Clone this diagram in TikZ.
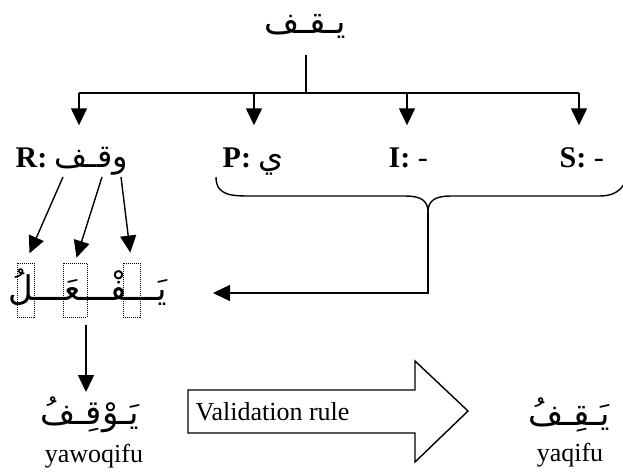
\documentclass[tikz,border=0pt]{standalone}
\usepackage{fontspec}
\setmainfont{Liberation Serif}
\newfontfamily\arabicfont[Script=Arabic]{DejaVu Sans}
\TeXXeTstate=1
\usetikzlibrary{arrows.meta}

\begin{document}
\begin{tikzpicture}[x=1pt,y=-1pt,line width=1.4pt,
  arr/.style={-{Triangle[width=16pt,length=17pt]}},
  lbl/.style={font=\fontsize{30}{32}\selectfont\bfseries, inner sep=0pt, text height=24pt, text depth=8pt, anchor=base west},
  ar/.style={font=\fontsize{34}{38}\arabicfont, inner sep=0pt},
  tr/.style={font=\fontsize{26}{28}\selectfont, inner sep=0pt, anchor=base},
  slot/.style={draw, densely dotted, line width=1pt, minimum height=54pt, inner sep=0pt}]
\useasboundingbox (0,0) rectangle (623,471);
\node[ar] (w0) at (305,26) {\beginR يـقـف\endR};
\coordinate (stem) at (306,55);
\coordinate (bar) at (306,93);
\coordinate (bR) at (79,93);
\coordinate (bP) at (254,93);
\coordinate (bI) at (407,93);
\coordinate (bS) at (579,93);
\draw (stem) -- (bar);
\draw (bR) -- (bS);
\node[lbl] (r) at (15,167) {R: {\mdseries\arabicfont\fontsize{32}{36}\selectfont\beginR وقـف\endR}};
\node[lbl] (p) at (222,167) {P: {\mdseries\arabicfont\fontsize{32}{36}\selectfont\beginR ي\endR}};
\node[lbl] (i) at (388,167) {I: \mdseries -};
\node[lbl] (s) at (559,167) {S: \mdseries -};
\draw[arr, shorten >=17pt] (bR) -- (bR |- r.north);
\draw[arr, shorten >=17pt] (bP) -- (bP |- p.north);
\draw[arr, shorten >=17pt] (bI) -- (bI |- i.north);
\draw[arr, shorten >=17pt] (bS) -- (bS |- s.north);
% brace under P, I, S
\coordinate (tip) at (428,212);
\draw (216,177) .. controls (216,196) and (232,196) .. (252,196) -- (405,196)
  .. controls (420,196) and (428,200) .. (tip)
  .. controls (428,200) and (436,196) .. (451,196) -- (600,196)
  .. controls (614,196) and (622,190) .. (626,180);
% pattern
\node[ar, anchor=base] (pat) at (88,300) {\beginR يَـــفْـــعَـــلُ\endR};
\node[slot, minimum width=17pt] (s1) at (25.5,290) {};
\node[slot, minimum width=24pt] (s2) at (75,290) {};
\node[slot, minimum width=17pt] (s3) at (131.5,290) {};
\coordinate (corner) at (428,293);
\coordinate (patin) at (213,293);
\draw[arr] (tip) -- (corner) -- (patin);
\coordinate (f1) at (63,177);
\coordinate (f2) at (102,177);
\coordinate (f3) at (121,177);
\draw[arr, shorten >=10pt] (f1) -- (s1.north);
\draw[arr, shorten >=5pt] (f2) -- (s2.north);
\draw[arr, shorten >=10pt] (f3) -- (s3.north);
% result
\coordinate (pd) at (86,325);
\node[ar, anchor=north] (wq) at (90,396) {\beginR يَـوْقِـفُ\endR};
\draw[arr, shorten >=4pt] (pd) -- (pd |- wq.north);
\node[tr] (wqt) at (94,462) {yawoqifu};
\draw (188,390) -- (415,390) -- (415,361) -- (468,411) -- (415,462) -- (415,433) -- (188,433) -- cycle;
\node[tr, anchor=base west] (rule) at (195,420) {Validation rule};
\node[ar] (yq) at (569,415) {\beginR يَـقِـفُ\endR};
\node[tr] (yqt) at (570,461) {yaqifu};
\end{tikzpicture}
\end{document}
